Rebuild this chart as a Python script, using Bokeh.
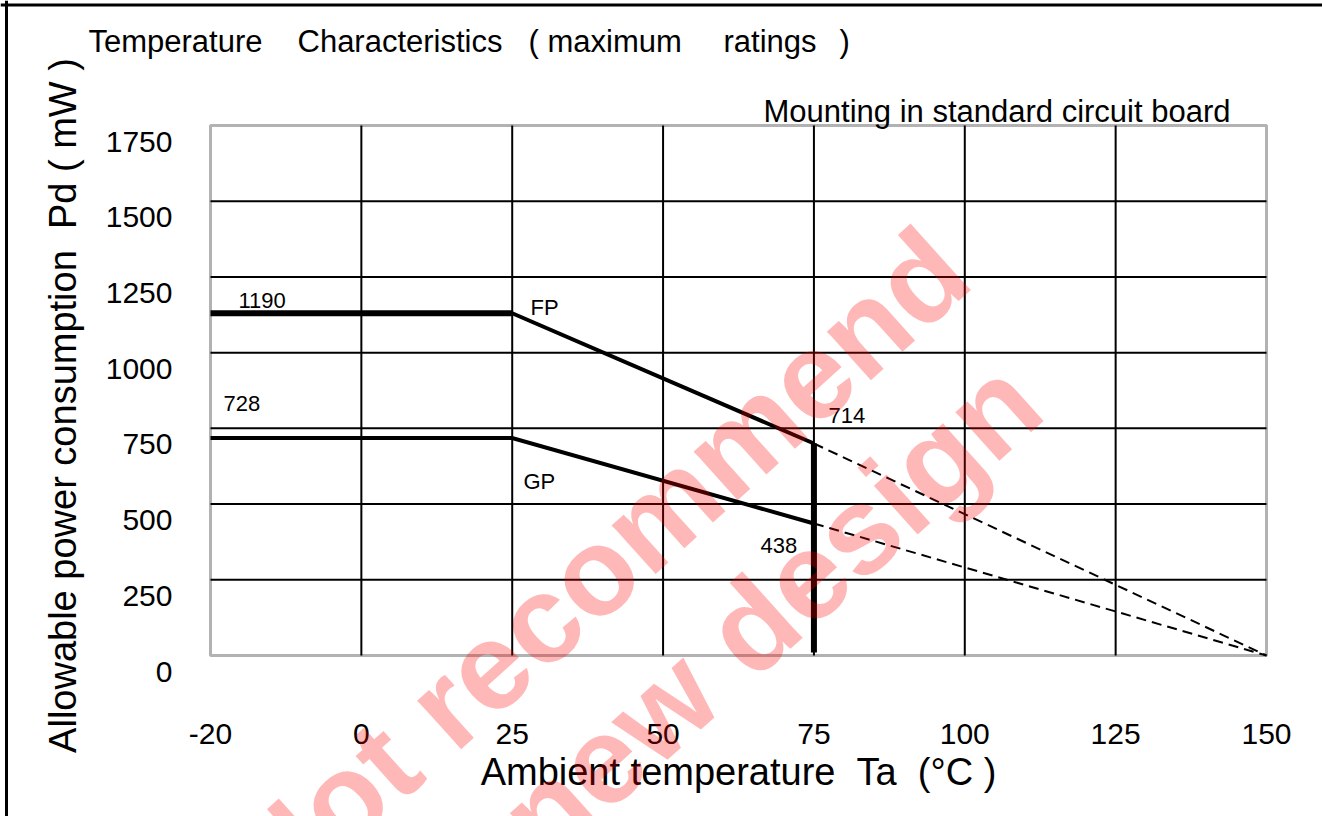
import math
from bokeh.plotting import figure
from bokeh.models import FixedTicker, Label, BoxAnnotation, Range1d, Span
from bokeh.embed import file_html
from bokeh.resources import INLINE

# ---------------- data ----------------
ta_ticks = [-20, 0, 25, 50, 75, 100, 125, 150]          # Ambient temperature tick labels
pd_ticks = [0, 250, 500, 750, 1000, 1250, 1500, 1750]   # Power tick labels (mW)

fp_flat_ta = [-20, 25]
fp_flat_pd = [1130, 1130]
fp_slope_ta = [25, 75]
fp_slope_pd = [1130, 700]
fp_ext_ta = [75, 150]
fp_ext_pd = [700, 0]

gp_ta = [-20, 25, 75]
gp_pd = [718, 718, 436]
gp_ext_ta = [75, 150]
gp_ext_pd = [436, 0]

limit_ta = [75, 75]
limit_pd = [10, 700]

point_labels = ["1190", "728", "FP", "GP", "714", "438"]

# The datasheet axis is broken: -20 sits one grid step left of 0
AXIS_POS = {-20: -25}
def pos(t):
    return AXIS_POS.get(t, t)

FONT = "Liberation Sans"

# ---------------- layout (page pixels) ----------------
W, H = 1322, 816
BOX_L, BOX_R, BOX_T, BOX_B = 210, 1266, 125, 655
XA, XB = pos(ta_ticks[0]), pos(ta_ticks[-1])
YA, YB = pd_ticks[0], pd_ticks[-1]
SX = (BOX_R - BOX_L) / (XB - XA)
SY = (BOX_B - BOX_T) / (YB - YA)

def px_x(px):
    return XA + (px - BOX_L) / SX

def px_y(py):
    return YB - (py - BOX_T) / SY

p = figure(
    x_range=Range1d(px_x(0), px_x(W)), y_range=Range1d(px_y(H), px_y(0)),
    width=W, height=H, min_border=0,
    min_border_left=0, min_border_right=0, min_border_top=0, min_border_bottom=0,
    output_backend="svg", toolbar_location=None,
    background_fill_color="white", border_fill_color="white",
)
p.title.visible = False
p.outline_line_color = None
p.xgrid.visible = False
p.ygrid.visible = False

# ---------------- axes ----------------
xax, yax = p.xaxis[0], p.yaxis[0]
xax.fixed_location = YA
xax.bounds = (XA, XB)
xax.ticker = FixedTicker(ticks=[pos(t) for t in ta_ticks])
xax.major_label_overrides = {pos(t): str(t) for t in ta_ticks}
xax.axis_label = "Ambient temperature\u00a0\u00a0Ta\u00a0\u00a0(\u00b0C )"

label_shift = 53  # tick labels sit a little below their grid lines
yax.fixed_location = XA
yax.bounds = (-99, YB)
yax.ticker = FixedTicker(ticks=[v - label_shift for v in pd_ticks])
yax.major_label_overrides = {v - label_shift: str(v) for v in pd_ticks}
yax.axis_label = "Allowable power consumption\u00a0\u00a0Pd ( mW )"

for ax in (xax, yax):
    ax.axis_line_color = None
    ax.major_tick_line_color = None
    ax.minor_tick_line_color = None
    ax.major_tick_out = 0
    ax.major_tick_in = 0
    ax.major_label_text_font = FONT
    ax.major_label_text_font_size = "30px"
    ax.major_label_text_color = "black"
    ax.axis_label_text_font = FONT
    ax.axis_label_text_font_size = "38px"
    ax.axis_label_text_font_style = "normal"
    ax.axis_label_text_color = "black"

xax.major_label_standoff = 68
xax.axis_label_standoff = 4
yax.major_label_standoff = 38
yax.axis_label_standoff = 19

# ---------------- grid ----------------
vx = [pos(t) for t in ta_ticks[1:-1]]
p.segment(x0=vx, y0=[YA] * len(vx), x1=vx, y1=[YB] * len(vx), line_color="black", line_width=2)
hy = pd_ticks[1:-1]
p.segment(x0=[XA] * len(hy), y0=hy, x1=[XB] * len(hy), y1=hy, line_color="black", line_width=2)

# ---------------- curves ----------------
p.line([pos(t) for t in fp_flat_ta], fp_flat_pd, line_color="black", line_width=6)
p.line([pos(t) for t in fp_slope_ta], fp_slope_pd, line_color="black", line_width=4)
p.line([pos(t) for t in gp_ta], gp_pd, line_color="black", line_width=4, line_join="miter")
p.line([pos(t) for t in fp_ext_ta], fp_ext_pd, line_color="black", line_width=2, line_dash="10 6")
p.line([pos(t) for t in gp_ext_ta], gp_ext_pd, line_color="black", line_width=2, line_dash="10 6")
p.line([pos(t) for t in limit_ta], limit_pd, line_color="black", line_width=6)

p.add_layout(BoxAnnotation(left=XA, right=XB, bottom=YA, top=YB,
                           fill_color=None, line_color="black", line_width=3))

# page frame (left and top edges)
p.add_layout(Span(location=px_x(6), dimension="height", line_color="black", line_width=3))
p.add_layout(Span(location=px_y(4.5), dimension="width", line_color="black", line_width=3))

# ---------------- annotations ----------------
label_px = [(238, 300), (223, 403), (530, 307), (523, 481), (828, 415), (760, 545)]
for txt, (lx, ly) in zip(point_labels, label_px):
    p.add_layout(Label(x=px_x(lx), y=px_y(ly), text=txt, text_font=FONT,
                       text_font_size="22px", text_align="left", text_baseline="middle",
                       text_color="black"))

title_parts = [("Temperature", 88), ("Characteristics", 297), ("(", 528),
               ("maximum", 547), ("ratings", 723), (")", 839)]
for txt, lx in title_parts:
    p.add_layout(Label(x=px_x(lx), y=px_y(41), text=txt, text_font=FONT,
                       text_font_size="31px", text_align="left", text_baseline="alphabetic",
                       text_color="black"))

p.add_layout(Label(x=px_x(1230), y=px_y(111), text="Mounting in standard circuit board",
                   text_font=FONT, text_font_size="31px", text_align="right",
                   text_baseline="alphabetic", text_color="black"))

# watermark
ang = math.radians(42)
for txt, (cx, cy) in [("Not recommend", (597, 568)), ("for new design", (695, 676))]:
    p.add_layout(Label(x=px_x(cx), y=px_y(cy), text=txt, angle=ang, text_font=FONT,
                       text_font_style="bold", text_font_size="124px", text_color="red",
                       text_alpha=0.28, text_align="center", text_baseline="alphabetic"))

open("out.html", "w").write(file_html(p, INLINE))
